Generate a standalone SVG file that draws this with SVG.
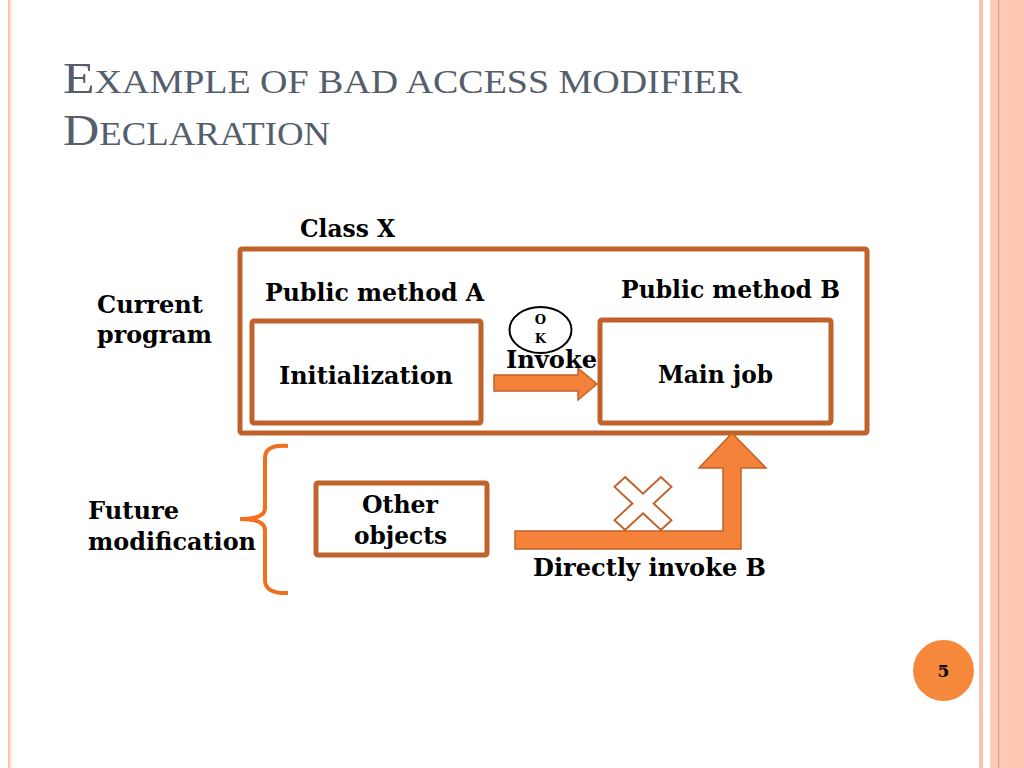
<svg xmlns="http://www.w3.org/2000/svg" width="1024" height="768" viewBox="0 0 1024 768">
<defs>
<style>
.lbl{font-family:"DejaVu Serif","Liberation Serif",serif;font-weight:bold;font-size:24px;fill:#000}
.box{fill:#fff;stroke:#c0622a;stroke-width:5}
.title{font-family:"Liberation Serif",serif;fill:#545e6c}
.arr{fill:#f4823a;stroke:#c0622a;stroke-width:1.5}
.ok{font-family:"DejaVu Serif",serif;font-weight:bold;font-size:13px;fill:#000}
</style>
</defs>
<rect x="0" y="0" width="1024" height="768" fill="#fff"/>
<!-- decorative stripes -->
<rect x="8" y="0" width="2.5" height="768" fill="#f9c3b2"/>
<rect x="11.5" y="0" width="1" height="768" fill="#fde3da"/>
<rect x="979" y="0" width="4" height="768" fill="#f9c3b2"/>
<rect x="990" y="0" width="34" height="768" fill="#fccbb9"/>
<rect x="1008" y="0" width="16" height="768" fill="#fdc6b0"/>
<rect x="998" y="0" width="1.2" height="768" fill="#e39a80"/>
<!-- title -->
<text class="title" x="63" y="93" textLength="679" lengthAdjust="spacingAndGlyphs"><tspan font-size="45">E</tspan><tspan font-size="33">XAMPLE OF BAD ACCESS MODIFIER</tspan></text>
<text class="title" x="63" y="145" textLength="267" lengthAdjust="spacingAndGlyphs"><tspan font-size="45">D</tspan><tspan font-size="33">ECLARATION</tspan></text>
<!-- nodes -->
<g id="classX">
<rect class="box" x="240" y="249" width="627" height="184" rx="2"/>
<text class="lbl" x="300" y="237" textLength="95" lengthAdjust="spacingAndGlyphs">Class X</text>
</g>
<g id="methodA">
<text class="lbl" x="265" y="301" textLength="219" lengthAdjust="spacingAndGlyphs">Public method A</text>
<rect class="box" x="252" y="321" width="229" height="102" rx="2"/>
<text class="lbl" x="279" y="384" textLength="174" lengthAdjust="spacingAndGlyphs">Initialization</text>
</g>
<g id="methodB">
<text class="lbl" x="621" y="298" textLength="219" lengthAdjust="spacingAndGlyphs">Public method B</text>
<rect class="box" x="600" y="320" width="231" height="103" rx="2"/>
<text class="lbl" x="658" y="383" textLength="115" lengthAdjust="spacingAndGlyphs">Main job</text>
</g>
<g id="otherObjects">
<rect class="box" x="316" y="483" width="171" height="72" rx="2"/>
<text class="lbl" x="362" y="513" textLength="76" lengthAdjust="spacingAndGlyphs">Other</text>
<text class="lbl" x="354" y="544" textLength="93" lengthAdjust="spacingAndGlyphs">objects</text>
</g>
<g id="currentProgram">
<text class="lbl" x="97" y="313" textLength="106" lengthAdjust="spacingAndGlyphs">Current</text>
<text class="lbl" x="97" y="343" textLength="115" lengthAdjust="spacingAndGlyphs">program</text>
</g>
<g id="futureModification">
<text class="lbl" x="88" y="519" textLength="91" lengthAdjust="spacingAndGlyphs">Future</text>
<text class="lbl" x="88" y="550" textLength="168" lengthAdjust="spacingAndGlyphs">modification</text>
<path d="M288,446 Q265,444 265,458 L265,508 Q265,519 240,519 Q265,519 265,530 L265,580 Q265,594 288,593" fill="none" stroke="#f07020" stroke-width="4"/>
</g>
<g id="pageNumber">
<circle cx="943.5" cy="670.5" r="30.5" fill="#f5883a"/>
<text x="943.5" y="677" text-anchor="middle" font-family="DejaVu Serif, serif" font-weight="bold" font-size="17">5</text>
</g>
<!-- connectors -->
<g id="connectors">
<path class="arr" d="M494,375 L578,375 L578,368 L597,384 L578,400 L578,391 L494,391 Z"/>
<ellipse cx="540.5" cy="330" rx="31" ry="23" fill="#fff" stroke="#000" stroke-width="2"/>
<text class="ok" x="540.5" y="324" text-anchor="middle">O</text>
<text class="ok" x="540.5" y="343" text-anchor="middle">K</text>
<text class="lbl" x="506" y="368" textLength="91" lengthAdjust="spacingAndGlyphs">Invoke</text>
<path class="arr" d="M515,531 L723,531 L723,468 L699,468 L732,433 L766,468 L741,468 L741,549 L515,549 Z"/>
<polygon transform="translate(643,503.5) scale(1,0.93)" points="-17.9,-28.5 0,-10.6 17.9,-28.5 28.5,-17.9 10.6,0 28.5,17.9 17.9,28.5 0,10.6 -17.9,28.5 -28.5,17.9 -10.6,0 -28.5,-17.9" fill="#fff" stroke="#c0622a" stroke-width="2"/>
<text class="lbl" x="533" y="576" textLength="233" lengthAdjust="spacingAndGlyphs">Directly invoke B</text>
</g>
</svg>
